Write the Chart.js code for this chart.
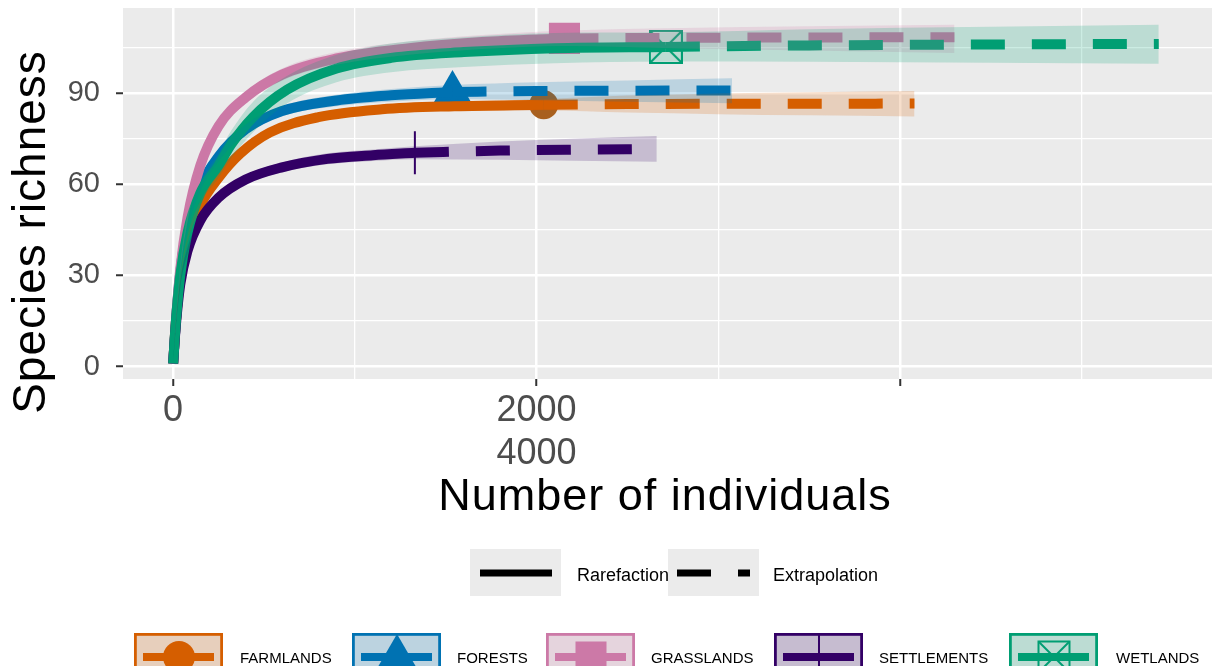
<!DOCTYPE html>
<html>
<head>
<meta charset="utf-8">
<script src="https://cdn.jsdelivr.net/npm/chart.js@4.4.1/dist/chart.umd.min.js"></script>
<style>
  html, body { margin: 0; padding: 0; background: #fff; overflow: hidden; }
  #wrap { position: relative; width: 1214px; height: 666px; overflow: hidden; font-family: 'Liberation Sans', Arial, sans-serif; }
  #chart { position: absolute; left: 0; top: 0; }
  .key { position: absolute; display: block; }
  .lbl { position: absolute; color: #000; white-space: nowrap; line-height: 1; }
</style>
</head>
<body>
<div id="wrap">
  <canvas id="chart" width="1214" height="666"></canvas>
  <div id="legend"></div>
</div>
<script>
// ---- data ----
const sites = ['FARMLANDS', 'FORESTS', 'GRASSLANDS', 'SETTLEMENTS', 'WETLANDS'];
const siteColors = ['#D55E00', '#0072B2', '#CC79A7', '#330066', '#009E73'];
const siteShapes = ['circle', 'triangle', 'rect', 'cross', 'boxX'];
// observed-point fill as it shows in the panel (the circle reads darker there)
const markerColors = ['#A8601F', '#0072B2', '#CC79A7', '#330066', '#009E73'];

// FARMLANDS
const farmRareX = [1, 15, 40, 80, 150, 250, 370, 534, 800, 1150, 1550, 2040];
const farmRareY = [1, 14, 29, 42, 53, 62, 70, 77, 82, 84.6, 85.6, 86.1];
const farmExtX = [2040, 2500, 3000, 3500, 4080];
const farmExtY = [86.1, 86.3, 86.4, 86.4, 86.5];
const farmLo = [1, 13.5, 28, 40.8, 51.6, 60.5, 68.5, 75.6, 80.6, 83.2, 84.0, 84.2, 83.5, 83.0, 82.6, 82.2];
const farmHi = [1, 14.5, 30, 43.2, 54.4, 63.5, 71.5, 78.4, 83.4, 86.0, 87.2, 88.0, 89.1, 89.8, 90.2, 90.6];

// FORESTS
const forRareX = [1, 15, 40, 80, 150, 250, 400, 600, 900, 1200, 1538];
const forRareY = [1, 14, 31, 46, 59, 69, 78, 84, 87.5, 89.2, 90.3];
const forExtX = [1538, 2000, 2500, 3076];
const forExtY = [90.3, 90.6, 90.7, 90.8];
const forLo = [1, 13.5, 30, 44.8, 57.6, 67.5, 76.4, 82.3, 85.6, 87.1, 88.0, 87.6, 87.1, 86.6];
const forHi = [1, 14.5, 32, 47.2, 60.4, 70.5, 79.6, 85.7, 89.4, 91.3, 92.6, 93.5, 94.1, 94.8];

// GRASSLANDS
const graRareX = [1, 15, 40, 80, 150, 250, 400, 600, 900, 1300, 1700, 2154];
const graRareY = [1, 14, 32, 49, 66, 79, 88.5, 96, 101.3, 104.7, 106.7, 107.9];
const graExtX = [2154, 2800, 3500, 4300];
const graExtY = [107.9, 108.1, 108.2, 108.3];
const graLo = [1, 13.5, 30.8, 47.6, 64.4, 77.2, 86.6, 94.0, 99.2, 102.5, 104.4, 105.4, 104.6, 103.9, 103.1];
const graHi = [1, 14.5, 33.2, 50.4, 67.6, 80.8, 90.4, 98.0, 103.4, 106.9, 109.0, 110.4, 111.3, 111.9, 112.4];

// SETTLEMENTS
const setRareX = [1, 15, 40, 80, 150, 250, 400, 600, 850, 1100, 1331];
const setRareY = [1, 13, 27, 38, 48, 55.5, 61.5, 65.5, 68.3, 69.5, 70.3];
const setExtX = [1331, 1800, 2200, 2662];
const setExtY = [70.3, 71.0, 71.3, 71.5];
const setLo = [1, 12.5, 26, 36.9, 46.8, 54.1, 60.0, 63.9, 66.5, 67.6, 68.2, 68.0, 67.7, 67.3];
const setHi = [1, 13.5, 28, 39.1, 49.2, 56.9, 63.0, 67.1, 70.1, 71.4, 72.4, 74.0, 74.9, 75.8];

// WETLANDS
const wetRareX = [1, 15, 40, 80, 150, 250, 320, 440, 627, 900, 1200, 1600, 2100, 2712];
const wetRareY = [1, 14, 30, 44, 57, 66, 73, 82, 91, 98, 101.5, 103.4, 104.7, 105.1];
const wetExtX = [2712, 3500, 4500, 5424];
const wetExtY = [105.1, 105.6, 105.9, 106.1];
const wetLo = [1, 13, 28.5, 41.5, 53.5, 62, 68.5, 77, 86.5, 93.5, 96.8, 98.5, 99.7, 100.3, 100.2, 99.9, 99.6];
const wetHi = [1, 15, 31.5, 46.5, 60.5, 70, 77.5, 87, 95.5, 102.5, 106.2, 108.3, 109.7, 109.9, 110.9, 111.7, 112.4];

// axes
const xTicks = [0, 1000, 2000, 3000, 4000, 5000];
const xMajor = [0, 2000, 4000];
const xTickLabels = { 0: '0', 2000: ['2000', '4000'], 4000: '' };
const yTicks = [0, 15, 30, 45, 60, 75, 90, 105];
const yMajor = [0, 30, 60, 90];
const yTickLabels = { 0: '0', 30: '30', 60: '60', 90: '90' };

const curves = [
  { rx: farmRareX, ry: farmRareY, ex: farmExtX, ey: farmExtY, lo: farmLo, hi: farmHi },
  { rx: forRareX, ry: forRareY, ex: forExtX, ey: forExtY, lo: forLo, hi: forHi },
  { rx: graRareX, ry: graRareY, ex: graExtX, ey: graExtY, lo: graLo, hi: graHi },
  { rx: setRareX, ry: setRareY, ex: setExtX, ey: setExtY, lo: setLo, hi: setHi },
  { rx: wetRareX, ry: wetRareY, ex: wetExtX, ey: wetExtY, lo: wetLo, hi: wetHi },
];

const FONT = "'Liberation Sans', Arial, Helvetica, sans-serif";
Chart.defaults.font.family = FONT;

function rgba(hex, a) {
  const n = parseInt(hex.slice(1), 16);
  return `rgba(${(n >> 16) & 255},${(n >> 8) & 255},${n & 255},${a})`;
}
const pts = (xs, ys) => xs.map((x, i) => ({ x, y: ys[i] }));

// boxed-X marker (ggplot shape 7)
function boxXMarker(color, size) {
  const c = document.createElement('canvas');
  c.width = size; c.height = size;
  const g = c.getContext('2d');
  g.strokeStyle = color; g.lineWidth = 2;
  g.strokeRect(1, 1, size - 2, size - 2);
  g.beginPath();
  g.moveTo(1, 1); g.lineTo(size - 1, size - 1);
  g.moveTo(size - 1, 1); g.lineTo(1, size - 1);
  g.stroke();
  return c;
}

const markerRadius = { circle: 14.5, triangle: 22, rect: 22, cross: 21.5, boxX: 17 };

// ---- datasets ----
const datasets = [];
curves.forEach((c, i) => {
  const col = siteColors[i];
  const bandX = c.rx.concat(c.ex.slice(1));
  // ribbon (drawn on top, like ggiNEXT)
  datasets.push({
    data: pts(bandX, c.lo), borderWidth: 0, pointRadius: 0, fill: false,
    cubicInterpolationMode: 'monotone', order: 5 - i
  });
  datasets.push({
    data: pts(bandX, c.hi), borderWidth: 0, pointRadius: 0, fill: '-1',
    backgroundColor: rgba(col, 0.2), cubicInterpolationMode: 'monotone', order: 5 - i
  });
  // rarefaction
  datasets.push({
    data: pts(c.rx, c.ry), borderColor: col, borderWidth: 10, pointRadius: 0, fill: false,
    borderCapStyle: 'butt', cubicInterpolationMode: 'monotone', order: 15 - i
  });
  // extrapolation
  datasets.push({
    data: pts(c.ex, c.ey), borderColor: col, borderWidth: 10, borderDash: [34, 27], pointRadius: 0, fill: false,
    borderCapStyle: 'butt', cubicInterpolationMode: 'monotone', order: 15 - i
  });
  // observed sample
  const shape = siteShapes[i];
  const mcol = markerColors[i];
  datasets.push({
    data: [{ x: c.rx[c.rx.length - 1], y: c.ry[c.ry.length - 1] }],
    showLine: false, fill: false,
    pointStyle: shape === 'boxX' ? boxXMarker(mcol, 34) : shape,
    pointRadius: markerRadius[shape],
    pointBackgroundColor: mcol, pointBorderColor: mcol,
    pointBorderWidth: shape === 'cross' ? 2 : 0,
    order: 25 - i
  });
});

// ---- plugins ----
const panelBg = {
  id: 'panelBg',
  beforeDraw(chart) {
    const { ctx, chartArea: a } = chart;
    ctx.save();
    ctx.fillStyle = '#EBEBEB';
    ctx.fillRect(a.left, a.top, a.right - a.left, a.bottom - a.top);
    ctx.restore();
  }
};

const axisTitles = {
  id: 'axisTitles',
  afterDraw(chart) {
    const ctx = chart.ctx;
    ctx.save();
    ctx.fillStyle = '#000';
    ctx.letterSpacing = '1px';
    ctx.font = `45px ${FONT}`;
    ctx.textAlign = 'center';
    ctx.textBaseline = 'alphabetic';
    ctx.fillText('Number of individuals', 665, 510);
    ctx.translate(45, 232);
    ctx.rotate(-Math.PI / 2);
    ctx.font = `46px ${FONT}`;
    ctx.fillText('Species richness', 0, 0);
    ctx.restore();
  }
};

// no automatic edge padding for tick labels: panel is placed by hand
function noPad(s) {
  s.paddingTop = 0; s.paddingBottom = 0; s.paddingLeft = 0; s.paddingRight = 0;
}

new Chart(document.getElementById('chart'), {
  type: 'line',
  data: { datasets },
  options: {
    responsive: false,
    animation: false,
    events: [],
    layout: { autoPadding: false, padding: { top: 8, right: 2, left: 0, bottom: 0 } },
    plugins: { legend: { display: false }, tooltip: { enabled: false } },
    scales: {
      x: {
        type: 'linear', min: -275, max: 5717,
        afterBuildTicks: s => { s.ticks = xTicks.map(v => ({ value: v })); },
        afterFit: s => { s.height = 287; noPad(s); },
        border: { display: false },
        grid: {
          color: '#FFFFFF',
          lineWidth: ctx => xMajor.includes(ctx.tick.value) ? 2.5 : 1.3,
          tickColor: ctx => xMajor.includes(ctx.tick.value) ? '#333333' : 'rgba(0,0,0,0)',
          tickLength: 7, tickWidth: 2
        },
        ticks: {
          autoSkip: false, maxRotation: 0, padding: 4,
          color: '#4D4D4D', font: { size: 36, lineHeight: 1.18 },
          callback: v => xTickLabels[v] !== undefined ? xTickLabels[v] : ''
        }
      },
      y: {
        type: 'linear', min: -4.1, max: 117.9,
        afterBuildTicks: s => { s.ticks = yTicks.map(v => ({ value: v })); },
        afterFit: s => { s.width = 123; noPad(s); },
        border: { display: false },
        grid: {
          color: '#FFFFFF',
          lineWidth: ctx => yMajor.includes(ctx.tick.value) ? 2.5 : 1.3,
          tickColor: ctx => yMajor.includes(ctx.tick.value) ? '#333333' : 'rgba(0,0,0,0)',
          tickLength: 7, tickWidth: 2
        },
        ticks: {
          autoSkip: false, padding: 16,
          color: '#4D4D4D', font: { size: 29 },
          callback: v => yTickLabels[v] !== undefined ? yTickLabels[v] : ''
        }
      }
    }
  },
  plugins: [panelBg, axisTitles]
});

// ---- legends (HTML) ----
const legend = document.getElementById('legend');

// linetype legend
legend.innerHTML += `
  <svg class="key" style="left:470px;top:549px" width="91" height="47">
    <rect x="0" y="0" width="91" height="47" fill="#EBEBEB"/>
    <line x1="10" y1="24" x2="82" y2="24" stroke="#000" stroke-width="7"/>
  </svg>
  <div class="lbl" style="left:577px;top:565.5px;font-size:18px">Rarefaction</div>
  <svg class="key" style="left:668px;top:549px" width="91" height="47">
    <rect x="0" y="0" width="91" height="47" fill="#EBEBEB"/>
    <line x1="9" y1="24" x2="82" y2="24" stroke="#000" stroke-width="7" stroke-dasharray="34 27"/>
  </svg>
  <div class="lbl" style="left:773px;top:565.5px;font-size:18px">Extrapolation</div>
`;

// colour / shape legend
const keyLeft = [134, 352, 546, 774, 1009];
const labelLeft = [240, 457, 651, 879, 1116];
function markerSvg(shape, col) {
  if (shape === 'circle') return `<circle cx="45" cy="24" r="16" fill="${col}"/>`;
  if (shape === 'triangle') return `<polygon points="45,1 65,35.5 25,35.5" fill="${col}"/>`;
  if (shape === 'rect') return `<rect x="29.5" y="8.5" width="31" height="31" fill="${col}"/>`;
  if (shape === 'cross') return `<line x1="45" y1="0" x2="45" y2="47" stroke="${col}" stroke-width="2"/>`;
  return `<rect x="29.5" y="8.5" width="31" height="31" fill="none" stroke="${col}" stroke-width="2"/>
          <line x1="29.5" y1="8.5" x2="60.5" y2="39.5" stroke="${col}" stroke-width="2"/>
          <line x1="60.5" y1="8.5" x2="29.5" y2="39.5" stroke="${col}" stroke-width="2"/>`;
}
sites.forEach((name, i) => {
  const col = siteColors[i];
  legend.innerHTML += `
    <svg class="key" style="left:${keyLeft[i]}px;top:633px" width="89" height="47">
      <rect x="0" y="0" width="89" height="47" fill="#EBEBEB"/>
      <rect x="1.4" y="1.4" width="86.2" height="44.2" fill="${rgba(col, 0.2)}" stroke="${col}" stroke-width="2.8"/>
      ${markerSvg(siteShapes[i], col)}
      <line x1="9" y1="24" x2="80" y2="24" stroke="${col}" stroke-width="8"/>
    </svg>
    <div class="lbl" style="left:${labelLeft[i]}px;top:649.5px;font-size:15px">${name}</div>
  `;
});
</script>
</body>
</html>
